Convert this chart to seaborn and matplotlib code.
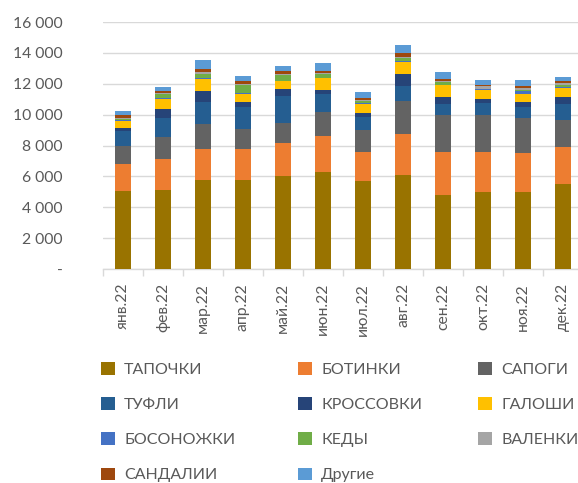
import matplotlib
matplotlib.use("Agg")
import matplotlib.pyplot as plt
import seaborn as sns
import pandas as pd
import numpy as np
from matplotlib.patches import Patch
from matplotlib.ticker import FuncFormatter, FixedLocator

months = ["янв.22", "фев.22", "мар.22", "апр.22", "май.22", "июн.22",
          "июл.22", "авг.22", "сен.22", "окт.22", "ноя.22", "дек.22"]

series_names = ["ТАПОЧКИ", "БОТИНКИ", "САПОГИ", "ТУФЛИ", "КРОССОВКИ", "ГАЛОШИ",
                "БОСОНОЖКИ", "КЕДЫ", "ВАЛЕНКИ", "САНДАЛИИ", "Другие"]

tapochki   = [5070, 5140, 5780, 5780, 6040, 6300, 5720, 6110, 4770, 4970, 4970, 5530]
botinki    = [1720, 2000, 2020, 2000, 2110, 2300, 1890, 2620, 2800, 2600, 2520, 2370]
sapogi     = [1200, 1400, 1610, 1310, 1330, 1590, 1420, 2170, 2430, 2390, 2260, 1720]
tufli      = [920, 1270, 1380, 1420, 1700, 1120, 820, 970, 710, 770, 770, 1100]
krossovki  = [240, 540, 730, 280, 470, 280, 260, 770, 410, 260, 320, 410]
galoshi    = [430, 670, 770, 560, 500, 770, 580, 770, 770, 600, 520, 600]
bosonozhki = [80, 40, 60, 60, 60, 40, 40, 40, 60, 40, 170, 60]
kedy       = [70, 300, 280, 520, 370, 240, 150, 220, 150, 60, 90, 150]
valenki    = [60, 40, 110, 60, 40, 40, 60, 90, 90, 170, 90, 110]
sandalii   = [210, 150, 190, 170, 190, 170, 130, 240, 150, 40, 150, 110]
drugie     = [240, 260, 600, 320, 340, 520, 410, 490, 410, 370, 410, 280]

series_values = [tapochki, botinki, sapogi, tufli, krossovki, galoshi,
                 bosonozhki, kedy, valenki, sandalii, drugie]

colors = ["#997300", "#ED7D31", "#636363", "#255E91", "#264478", "#FFC000",
          "#4472C4", "#70AD47", "#A5A5A5", "#9E480E", "#5B9BD5"]

sns.set_theme(style="white")
plt.rcParams['font.family'] = ['Lato', 'DejaVu Sans']
text_color = "#595959"

fig = plt.figure(figsize=(5.78, 4.83), dpi=100)
ax = fig.add_axes([103/578, 1 - 269/483, 480/578, (269 - 22)/483])

bottom = np.zeros(len(months))
for name, vals, col in zip(series_names, series_values, colors):
    df = pd.DataFrame({"month": months, "value": vals})
    sns.barplot(data=df, x="month", y="value", color=col, bottom=bottom,
                width=0.39, ax=ax, saturation=1, errorbar=None, zorder=3,
                linewidth=0)
    bottom = bottom + np.array(vals)

ax.set_ylim(0, 16000)
ax.set_xlim(-0.5, len(months) - 0.5)
ax.set_yticks(np.arange(0, 16001, 2000))
ax.yaxis.set_major_formatter(FuncFormatter(
    lambda v, p: "-" if v == 0 else f"{int(v):,}".replace(",", " ")))
ax.grid(axis="y", color="#D9D9D9", linewidth=1, zorder=0)
ax.grid(axis="x", visible=False)
ax.set_xlabel("")
ax.set_ylabel("")
for s in ["left", "right", "top"]:
    ax.spines[s].set_visible(False)
ax.spines["bottom"].set_color("#D9D9D9")
ax.spines["bottom"].set_linewidth(1)

ax.tick_params(axis="y", length=0, pad=29, labelsize=11.3, labelcolor=text_color)
ax.tick_params(axis="x", which="major", length=0, pad=10, labelsize=11.3,
               labelcolor=text_color, rotation=90)
ax.xaxis.set_minor_locator(FixedLocator(np.arange(-0.5, len(months), 1.0)))
ax.tick_params(axis="x", which="minor", length=5, width=1, color="#D9D9D9",
               bottom=True)
for lbl in ax.get_yticklabels():
    lbl.set_horizontalalignment("right")

handles = [Patch(facecolor=c, edgecolor="none") for c in colors]
cols = [[0, 3, 6, 9], [1, 4, 7, 10], [2, 5, 8]]
xs = [101/578, 298/578, 478/578]
for xi, idx in zip(xs, cols):
    fig.legend([handles[i] for i in idx], [series_names[i] for i in idx],
               loc="upper left", bbox_to_anchor=(xi, 1 - 362/483),
               frameon=False, borderpad=0, borderaxespad=0,
               handlelength=0.85, handleheight=0.85, handletextpad=0.6,
               labelspacing=1.27, fontsize=11.5, labelcolor=text_color)

fig.savefig("out.png", dpi=100)
